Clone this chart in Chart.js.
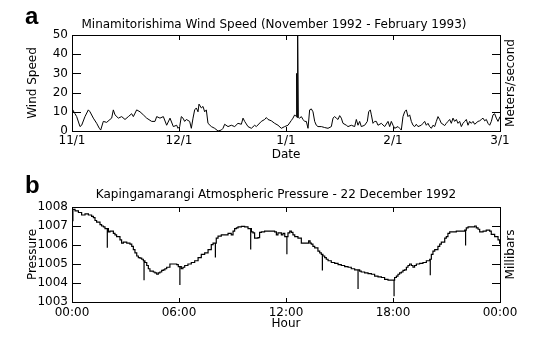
<!DOCTYPE html>
<html>
<head>
<meta charset="utf-8">
<script src="https://cdn.jsdelivr.net/npm/chart.js@4/dist/chart.umd.min.js"></script>
<style>
  html, body { margin: 0; padding: 0; background: #fff; }
  #wrap { position: relative; width: 542px; height: 338px; overflow: hidden; }
  canvas { position: absolute; left: 0; }
</style>
</head>
<body>
<div id="wrap">
  <canvas id="windChart" width="542" height="168" style="top:0"></canvas>
  <canvas id="pressChart" width="542" height="170" style="top:168px"></canvas>
</div>
<script>
// ---- Panel a: Minamitorishima wind speed (day counted from 1 Nov 1992, m/s) ----
const windDay = [
  0, 0.19, 0.84, 1.31, 2.24, 2.71, 3.64, 4.58, 5.05, 5.98, 6.92, 7.66, 8.04, 8.78, 9.72,
  10.65, 11.12, 11.59, 12.06, 12.99, 13.93, 14.86, 15.8, 16.73, 17.2, 18.13, 19.07, 20.0,
  20.94, 22.34, 23.27, 23.74, 24.67, 25.61, 26.54, 27.48, 28.41, 29.35, 29.72, 30.19, 30.65,
  31.12, 31.59, 32.06, 32.99, 33.46, 33.93, 34.39, 34.86, 35.33, 35.61, 36.26, 36.73, 37.2,
  37.66, 38.13, 39.07, 40.0, 40.94, 41.87, 42.34, 42.8, 43.74, 44.67, 45.61, 46.54, 47.48,
  47.95, 48.41, 49.35, 50.28, 51.22, 51.68, 53.08, 54.02, 54.49, 54.95, 55.89, 56.82, 57.76,
  58.69, 59.63, 60.56, 61.5, 61.96, 62.43, 62.9, 62.99, 63.13, 63.27, 63.46, 63.83, 64.3,
  64.77, 65.23, 65.7, 66.17, 66.63, 67.1, 67.57, 68.04, 68.5, 68.97, 69.91, 70.84, 71.78,
  72.71, 73.18, 73.64, 74.11, 74.58, 75.05, 75.51, 75.98, 76.92, 77.38, 78.32, 79.25, 79.72,
  80.19, 80.65, 81.12, 82.06, 82.8, 83.18, 83.64, 83.93, 84.39, 84.86, 85.33, 85.79, 86.73,
  87.66, 88.6, 89.07, 89.53, 90.0, 90.47, 91.4, 91.87, 92.33, 92.8, 93.27, 93.74, 94.2,
  94.67, 95.14, 95.61, 96.07, 96.54, 97.01, 97.94, 98.41, 98.88, 99.34, 99.81, 100.28,
  100.75, 101.21, 101.68, 102.15, 102.62, 103.08, 103.55, 104.02, 104.48, 104.95, 105.42,
  105.89, 106.35, 106.82, 107.29, 107.76, 108.22, 108.69, 109.16, 109.62, 110.09, 110.56,
  111.03, 111.49, 111.96, 112.43, 112.9, 113.83, 114.3, 114.77, 115.23, 115.7, 116.17,
  116.63, 117.1, 117.57, 118.04, 118.5, 118.97, 119.44, 120
];
const windSpeed = [
  10, 11, 9, 7.5, 2.3, 3, 7.5, 11, 10, 6.7, 4, 1.4, 0.5, 5, 4.5,
  6, 6.7, 11, 8.4, 6.7, 7.5, 6, 7.5, 9, 7.5, 11, 10, 8.4,
  6.7, 5, 5, 7.5, 6.7, 7.5, 3, 6.7, 2.3, 3, 1.4, 2.3, 7.5,
  6.7, 5, 6, 5, 1.4, 6.7, 11, 12, 10, 14, 12, 12.8, 10,
  11, 4, 2.3, 1.4, 0, 0.5, 1.4, 3.5, 2.3, 3, 2.3, 4, 3.5,
  6.7, 5, 2.3, 1.4, 3, 2.3, 5, 6, 7, 6, 5.3, 4, 3,
  1.4, 2.3, 3, 5.5, 6.7, 8.4, 7.5, 30, 7, 50, 7, 6.7, 7.5,
  6, 5, 5, 1.4, 11, 11.5, 10, 5, 3, 2.3, 2.3, 1.8, 1.4,
  2.3, 6.7, 7.5, 6.7, 6, 8, 6.7, 4, 3, 2.3, 3, 2.3, 6,
  3, 5, 2.3, 3, 5, 10, 11, 8.4, 4, 5, 5, 3, 4,
  2.3, 5, 2.3, 5, 3, 1.4, 2.3, 1.4, 0.5, 7.5, 10, 11, 7.5,
  8.4, 5, 3, 2.3, 3.5, 2.3, 3, 4, 5, 3, 4, 2.3,
  1.4, 3, 2.3, 5, 7.5, 6, 4, 3.5, 2.8, 4, 5,
  6, 4, 6.7, 5, 6, 4, 5, 2.3, 4, 5, 6,
  3, 5, 4, 5, 3.5, 5, 5.3, 6, 6.7, 5.3, 6,
  4, 3, 5, 8.4, 9, 6.7, 5, 7.5
];
const windTickDay = [0, 30, 60, 90, 120];
const windTickLabel = ['11/1', '12/1', '1/1', '2/1', '3/1'];
const speedTicks = [0, 10, 20, 30, 40, 50];

// ---- Panel b: Kapingamarangi pressure on 22 Dec 1992 (hour, mb), held between readings ----
const pressHour = [
  0, 0.17, 0.36, 0.54, 0.73, 0.92, 1.10, 1.20, 1.29, 1.38, 1.57, 1.66, 1.76, 1.85,
  2.04, 2.13, 2.32, 2.41, 2.50, 2.69, 2.78, 2.88, 3.07, 3.25, 3.35, 3.44, 3.53, 3.63,
  3.72, 3.81, 3.91, 4.00, 4.09, 4.19, 4.28, 4.37, 4.56, 4.65, 4.75, 4.84, 4.93, 5.03,
  5.12, 5.21, 5.31, 5.49, 5.68, 5.87, 5.96, 6.13, 6.22, 6.32, 6.50, 6.69, 6.88, 7.07,
  7.25, 7.44, 7.63, 7.81, 7.91, 8.09, 8.19, 8.37, 8.75, 8.93, 9.03, 9.12, 9.22, 9.31,
  9.50, 9.68, 9.87, 10.06, 10.15, 10.24, 10.43, 10.52, 10.62, 10.80, 11.36, 11.46, 11.55,
  11.74, 11.83, 11.93, 12.11, 12.21, 12.30, 12.39, 12.49, 12.67, 12.86, 13.27, 13.35,
  13.42, 13.51, 13.61, 13.79, 13.89, 13.98, 14.07, 14.17, 14.26, 14.36, 14.54, 14.73,
  14.92, 15.10, 15.29, 15.48, 15.66, 15.85, 16.13, 16.22, 16.41, 16.60, 16.79, 16.97,
  17.16, 17.35, 17.53, 17.72, 18.09, 18.19, 18.28, 18.37, 18.47, 18.56, 18.65, 18.75,
  18.84, 18.93, 19.03, 19.12, 19.21, 19.31, 19.49, 19.68, 19.87, 20.06, 20.15, 20.24,
  20.34, 20.52, 20.62, 20.71, 20.90, 20.99, 21.08, 21.18, 21.55, 22.02, 22.11, 22.21,
  22.58, 22.67, 22.77, 22.86, 23.05, 23.23, 23.42, 23.51, 23.70, 23.89, 23.98, 24
];
const pressValue = [
  1007.88, 1007.80, 1007.71, 1007.58, 1007.64, 1007.58, 1007.51, 1007.44, 1007.29, 1007.20,
  1007.07, 1007.00, 1006.95, 1006.86, 1006.69, 1006.73, 1006.61, 1006.53, 1006.44, 1006.27,
  1006.10, 1006.15, 1006.10, 1006.05, 1005.93, 1005.76, 1005.59, 1005.42, 1005.34, 1005.31,
  1005.25, 1005.17, 1005.08, 1004.92, 1004.75, 1004.63, 1004.58, 1004.53, 1004.46, 1004.53,
  1004.58, 1004.66, 1004.69, 1004.75, 1004.83, 1005.00, 1005.00, 1004.97, 1004.86, 1004.75,
  1004.83, 1004.92, 1005.00, 1005.08, 1005.17, 1005.34, 1005.51, 1005.59, 1005.76, 1006.02,
  1006.10, 1006.36, 1006.47, 1006.53, 1006.61, 1006.53, 1006.73, 1006.86, 1006.90, 1006.95,
  1006.98, 1006.95, 1006.86, 1006.69, 1006.64, 1006.36, 1006.39, 1006.66, 1006.69, 1006.73,
  1006.69, 1006.53, 1006.64, 1006.53, 1006.61, 1006.44, 1006.64, 1006.73, 1006.66, 1006.53,
  1006.44, 1006.36, 1006.10, 1006.22, 1006.10, 1006.05, 1005.93, 1005.85, 1005.68, 1005.59,
  1005.51, 1005.42, 1005.34, 1005.25, 1005.17, 1005.08, 1005.03, 1004.97, 1004.92, 1004.86,
  1004.83, 1004.75, 1004.69, 1004.63, 1004.58, 1004.53, 1004.49, 1004.46, 1004.36, 1004.32,
  1004.29, 1004.19, 1004.15, 1004.29, 1004.36, 1004.46, 1004.53, 1004.58, 1004.66, 1004.69,
  1004.83, 1004.92, 1005.00, 1004.92, 1004.83, 1004.92, 1005.00, 1005.03, 1005.08, 1005.17,
  1005.25, 1005.51, 1005.68, 1005.76, 1005.93, 1006.05, 1006.15, 1006.36, 1006.44, 1006.61,
  1006.69, 1006.73, 1006.78, 1006.90, 1006.95, 1007.00, 1006.90, 1006.83, 1006.69, 1006.73,
  1006.78, 1006.73, 1006.56, 1006.44, 1006.27, 1006.10, 1006.05
];
// brief downward excursions (hour, lowest reading)
const dropHour  = [0.05, 1.98, 4.04, 6.05, 8.04, 10.02, 12.05, 14.04, 16.04, 18.06, 20.09, 22.07];
const dropValue = [1007.25, 1005.85, 1004.15, 1003.90, 1005.34, 1005.76, 1005.51, 1004.66, 1003.68, 1003.30, 1004.41, 1005.98];
const hourTicks = [0, 6, 12, 18, 24];
const hourTickLabel = ['00:00', '06:00', '12:00', '18:00', '00:00'];
const pressTicks = [1003, 1004, 1005, 1006, 1007, 1008];

const FAMILY = '"DejaVu Sans", sans-serif';
Chart.defaults.font.family = FAMILY;
Chart.defaults.font.size = 12;
Chart.defaults.color = '#000';

// frame with inward tick marks plus panel captions
const panelDecor = {
  id: 'panelDecor',
  afterDraw(chart, _args, o) {
    const ctx = chart.ctx;
    const a = chart.chartArea;
    const xs = chart.scales.x, ys = chart.scales.y;
    const L = Math.round(a.left), R = Math.round(a.right);
    const T = Math.round(a.top), B = Math.round(a.bottom);
    const seg = (x1, y1, x2, y2) => { ctx.beginPath(); ctx.moveTo(x1, y1); ctx.lineTo(x2, y2); ctx.stroke(); };
    ctx.save();
    ctx.strokeStyle = '#000';
    ctx.lineWidth = 1;
    ctx.strokeRect(L + 0.5, T + 0.5, R - L, B - T);
    o.yTicks.forEach(v => {
      const y = Math.round(ys.getPixelForValue(v)) + 0.5;
      seg(L, y, L + 9, y);
      seg(R + 1 - 9, y, R + 1, y);
    });
    o.xTicks.forEach(v => {
      const x = Math.round(xs.getPixelForValue(v)) + 0.5;
      seg(x, B + 1, x, B - 4);
      seg(x, T, x, T + 5);
    });

    ctx.fillStyle = '#000';
    ctx.textBaseline = 'alphabetic';
    ctx.textAlign = 'left';
    ctx.font = 'bold 24px "Liberation Sans", sans-serif';
    ctx.fillText(o.tag, 25, o.tagY);

    ctx.textAlign = 'center';
    ctx.font = '12px ' + FAMILY;
    ctx.fillText(o.title, o.titleX, o.titleY);
    ctx.fillText(o.xTitle, (L + R) / 2, o.xTitleY);

    const midY = (a.top + a.bottom) / 2;
    ctx.textBaseline = 'middle';
    [[o.leftTitle, 32.5], [o.rightTitle, 511]].forEach(([txt, cx]) => {
      ctx.save();
      ctx.translate(cx, midY);
      ctx.rotate(-Math.PI / 2);
      ctx.fillText(txt, 0, 0);
      ctx.restore();
    });
    ctx.restore();
  }
};

function fixedTicks(values) {
  return function (scale) { scale.ticks = values.map(v => ({ value: v })); };
}
function labelFrom(values, labels) {
  return function (v) { const i = values.indexOf(v); return i >= 0 ? labels[i] : ''; };
}

function panelConfig(opts) {
  return {
    type: 'line',
    data: { datasets: [opts.dataset] },
    plugins: [panelDecor],
    options: {
      responsive: false,
      animation: false,
      events: [],
      layout: { padding: { top: opts.top, right: 42, left: 0, bottom: 0 } },
      plugins: { legend: { display: false }, tooltip: { enabled: false }, panelDecor: opts.decor },
      scales: {
        x: {
          type: 'linear', position: 'bottom', min: opts.xMin, max: opts.xMax,
          grid: { display: false, drawTicks: false }, border: { display: false },
          afterBuildTicks: fixedTicks(opts.xTicks),
          ticks: { autoSkip: false, maxRotation: 0, padding: opts.xPad, callback: labelFrom(opts.xTicks, opts.xLabels) },
          afterFit(s) { s.height = opts.xHeight; s.paddingLeft = 0; s.paddingRight = 0; }
        },
        y: {
          type: 'linear', position: 'left', min: opts.yMin, max: opts.yMax,
          grid: { display: false, drawTicks: false }, border: { display: false },
          afterBuildTicks: fixedTicks(opts.yTicks),
          ticks: { padding: 4, callback: labelFrom(opts.yTicks, opts.yTicks.map(String)) },
          afterFit(s) { s.width = 72; s.paddingTop = 0; s.paddingBottom = 0; }
        }
      }
    }
  };
}

new Chart(document.getElementById('windChart'), panelConfig({
  dataset: {
    data: windDay.map((d, i) => ({ x: d, y: windSpeed[i] })),
    borderColor: '#000', borderWidth: 1, pointRadius: 0, tension: 0, fill: false
  },
  top: 35, xHeight: 37, xPad: 3,
  xMin: 0, xMax: 120, xTicks: windTickDay, xLabels: windTickLabel,
  yMin: 0, yMax: 50, yTicks: speedTicks,
  decor: {
    tag: 'a', tagY: 24,
    title: 'Minamitorishima Wind Speed (November 1992 - February 1993)', titleX: 274, titleY: 28,
    xTitle: 'Date', xTitleY: 158,
    leftTitle: 'Wind Speed', rightTitle: 'Meters/second',
    xTicks: windTickDay, yTicks: speedTicks
  }
}));

// readings with the short drops spliced in at their hours
const pressPoints = [];
{
  let j = 0;
  pressHour.forEach((h, i) => {
    while (j < dropHour.length && dropHour[j] < h) {
      const held = pressPoints.length ? pressPoints[pressPoints.length - 1].y : pressValue[i];
      pressPoints.push({ x: dropHour[j], y: dropValue[j] }, { x: dropHour[j], y: held });
      j++;
    }
    pressPoints.push({ x: h, y: pressValue[i] });
  });
}

new Chart(document.getElementById('pressChart'), panelConfig({
  dataset: {
    data: pressPoints,
    borderColor: '#000', borderWidth: 1.2, pointRadius: 0, stepped: true, fill: false
  },
  top: 39, xHeight: 36, xPad: 4,
  xMin: 0, xMax: 24, xTicks: hourTicks, xLabels: hourTickLabel,
  yMin: 1003, yMax: 1008, yTicks: pressTicks,
  decor: {
    tag: 'b', tagY: 25,
    title: 'Kapingamarangi Atmospheric Pressure - 22 December 1992', titleX: 276, titleY: 30,
    xTitle: 'Hour', xTitleY: 159,
    leftTitle: 'Pressure', rightTitle: 'Millibars',
    xTicks: hourTicks, yTicks: pressTicks
  }
}));
</script>
</body>
</html>
